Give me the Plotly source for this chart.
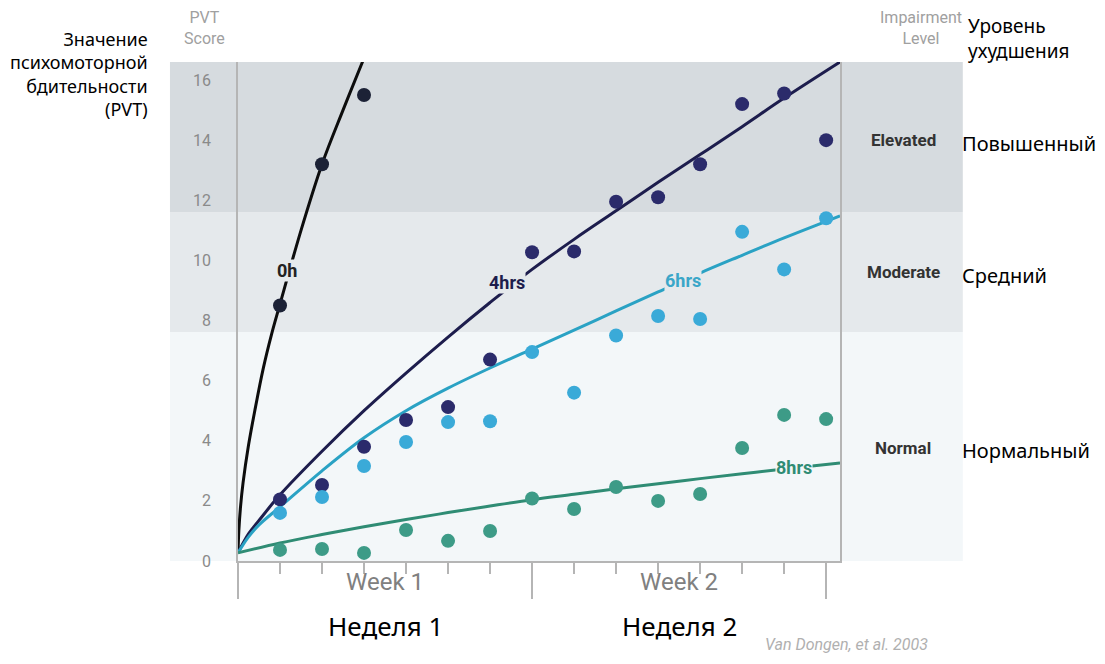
import plotly.graph_objects as go

# ---------------- data ----------------
days = list(range(1, 15))
pvt_0h_days = [1, 2, 3]
pvt_0h = [8.5, 13.2, 15.5]
pvt_4h = [2.05, 2.53, 3.8, 4.69, 5.12, 6.7, 10.27, 10.3, 11.95, 12.1, 13.2, 15.2, 15.55, 14.0]
pvt_6h = [1.6, 2.13, 3.16, 3.96, 4.62, 4.65, 6.95, 5.6, 7.5, 8.15, 8.05, 10.95, 9.7, 11.4]
pvt_8h = [0.37, 0.4, 0.27, 1.03, 0.67, 1.0, 2.08, 1.73, 2.46, 2.0, 2.23, 3.76, 4.86, 4.72]

# fitted trend curves
fit_0h_x = [0, 0.02, 0.06, 0.12, 0.25, 0.4, 0.6, 0.8, 1, 1.5, 2, 2.5, 2.95, 3.1]
fit_0h_y = [0.27, 1.0, 1.8, 2.6, 3.85, 5.0, 6.4, 7.55, 8.55, 11.0, 13.2, 15.0, 16.56, 17.1]
fit_4h_x = [0, 0.25, 0.5, 1, 2, 3, 4, 5, 6, 7, 8, 9, 10, 11, 12, 13, 14.33]
fit_4h_y = [0.27, 0.9, 1.35, 2.2, 3.65, 5.0, 6.25, 7.45, 8.6, 9.7, 10.7, 11.65, 12.6, 13.52, 14.45, 15.4, 16.6]
fit_6h_x = [0, 0.25, 0.5, 1, 2, 3, 4, 5, 6, 7, 8, 9, 10, 11, 12, 13, 14, 14.33]
fit_6h_y = [0.27, 0.8, 1.2, 1.8, 3.0, 4.1, 5.0, 5.75, 6.42, 7.05, 7.68, 8.32, 8.95, 9.58, 10.17, 10.75, 11.3, 11.48]
fit_8h_x = [0, 1, 2, 3, 4, 5, 6, 7, 8, 9, 10, 11, 12, 13, 14.33]
fit_8h_y = [0.27, 0.6, 0.88, 1.14, 1.38, 1.61, 1.83, 2.04, 2.22, 2.4, 2.57, 2.74, 2.9, 3.06, 3.26]

# impairment bands (PVT score thresholds)
band_names = ["Normal", "Moderate", "Elevated"]
band_names_ru = ["Нормальный", "Средний", "Повышенный"]
band_low = [0, 7.62, 11.6]
band_high = [7.62, 11.6, 16.6]
band_label_y = [3.76, 9.6, 14.0]

y_ticks = [0, 2, 4, 6, 8, 10, 12, 14, 16]
week_labels = ["Week 1", "Week 2"]
week_labels_ru = ["Неделя 1", "Неделя 2"]
week_centers = [3.5, 10.5]

# ---------------- styling ----------------
band_colors = ["#f3f7f9", "#e5e9ec", "#d6dbdf"]
c_line = {"0h": "#0d0d0d", "4hrs": "#1d1d4d", "6hrs": "#2aa2c4", "8hrs": "#2f8c74"}
c_mark = {"0h": "#1c2236", "4hrs": "#2b2b6b", "6hrs": "#3aaad8", "8hrs": "#3d9b87"}
grey = "#a0a0a0"
axis_grey = "#b5b5b5"

fig = go.Figure()

for fx, fy, key in [(fit_0h_x, fit_0h_y, "0h"), (fit_4h_x, fit_4h_y, "4hrs"),
                    (fit_6h_x, fit_6h_y, "6hrs"), (fit_8h_x, fit_8h_y, "8hrs")]:
    fig.add_trace(go.Scatter(x=fx, y=fy, mode="lines",
                             line=dict(color=c_line[key], width=3, shape="spline", smoothing=1.0),
                             hoverinfo="skip", showlegend=False))

for xs, ys, key in [(pvt_0h_days, pvt_0h, "0h"), (days, pvt_4h, "4hrs"),
                    (days, pvt_6h, "6hrs"), (days, pvt_8h, "8hrs")]:
    fig.add_trace(go.Scatter(x=xs, y=ys, mode="markers",
                             marker=dict(color=c_mark[key], size=14, line=dict(width=0)),
                             showlegend=False))

shapes = []
for lo, hi, col in zip(band_low, band_high, band_colors):
    shapes.append(dict(type="rect", xref="paper", yref="y", x0=-0.113, x1=1.204,
                       y0=lo - (0.05 if lo == 0 else 0), y1=hi,
                       fillcolor=col, line=dict(width=0), layer="below"))

ann = []


def add(**kw):
    kw.setdefault("showarrow", False)
    kw.setdefault("xanchor", "center")
    kw.setdefault("yanchor", "middle")
    ann.append(kw)


# curve labels
curve_labels = [("0h", 1.17, 9.68, "#222222", band_colors[1]),
                ("4hrs", 6.4, 9.25, "#1d1d4d", band_colors[1]),
                ("6hrs", 10.6, 9.33, "#3aa6c8", band_colors[1]),
                ("8hrs", 13.23, 3.1, "#2f8c74", band_colors[0])]
for txt, x, y, col, bg in curve_labels:
    add(x=x, y=y, xref="x", yref="y", text="<b>%s</b>" % txt,
        font=dict(family="Roboto", size=18, color=col), bgcolor=bg, borderpad=0)

# band labels
for name, name_ru, yv in zip(band_names, band_names_ru, band_label_y):
    add(x=1.105, y=yv, xref="paper", yref="y", text="<b>%s</b>" % name,
        font=dict(family="Roboto", size=17, color="#333333"))
    add(x=1.2, y=yv - 0.1, xref="paper", yref="y", text=name_ru, xanchor="left",
        font=dict(family="Noto Sans", size=20, color="#000000"))

# week labels
for w, wr, xc in zip(week_labels, week_labels_ru, week_centers):
    add(x=xc, y=-0.042, xref="x", yref="paper", text=w,
        font=dict(family="Roboto", size=24, color="#808080"))
    add(x=xc, y=-0.130, xref="x", yref="paper", text=wr,
        font=dict(family="Noto Sans", size=26, color="#000000"))

# headers
add(x=-0.055, y=1.068, xref="paper", yref="paper", text="PVT<br>Score",
    font=dict(family="Roboto", size=16, color=grey))
add(x=1.1346, y=1.068, xref="paper", yref="paper", text="Impairment<br>Level",
    font=dict(family="Roboto", size=16, color=grey))
add(x=-0.146, y=0.975, xref="paper", yref="paper",
    text="Значение<br>психомоторной<br>бдительности<br>(PVT)",
    xanchor="right", align="right",
    font=dict(family="Noto Sans", size=18, color="#000000"))
add(x=1.21, y=1.047, xref="paper", yref="paper", text="Уровень<br>ухудшения",
    xanchor="left", align="left",
    font=dict(family="Noto Sans", size=19, color="#000000"))
add(x=1.1495, y=-0.168, xref="paper", yref="paper", text="<i>Van Dongen, et al. 2003</i>",
    xanchor="right", font=dict(family="Roboto", size=16, color="#b0b0b0"))

# the page body has an 8px default margin, so the figure is 16px smaller than the window
fig.update_layout(
    width=1097, height=656,
    margin=dict(l=230, r=265, t=54, b=103),
    paper_bgcolor="white", plot_bgcolor="rgba(0,0,0,0)",
    shapes=shapes, annotations=ann, showlegend=False,
    xaxis=dict(range=[0, 14.33], showgrid=False, zeroline=False, showline=True,
               linecolor=axis_grey, linewidth=1.5,
               tickmode="array", tickvals=[0, 7, 14], showticklabels=False,
               ticks="outside", ticklen=36, tickcolor=axis_grey, tickwidth=1.5,
               minor=dict(tickmode="array", tickvals=[1, 2, 3, 4, 5, 6, 8, 9, 10, 11, 12, 13],
                          ticks="outside", ticklen=11, tickcolor=axis_grey, tickwidth=1.5)),
    yaxis=dict(range=[0, 16.6], showgrid=False, zeroline=False, showline=True, mirror=True,
               linecolor=axis_grey, linewidth=1.5,
               tickmode="array", tickvals=y_ticks, ticks="",
               ticklabelstandoff=22,
               tickfont=dict(family="Roboto", size=16, color="#8a8a8a")),
)

fig.write_html("out.html")
